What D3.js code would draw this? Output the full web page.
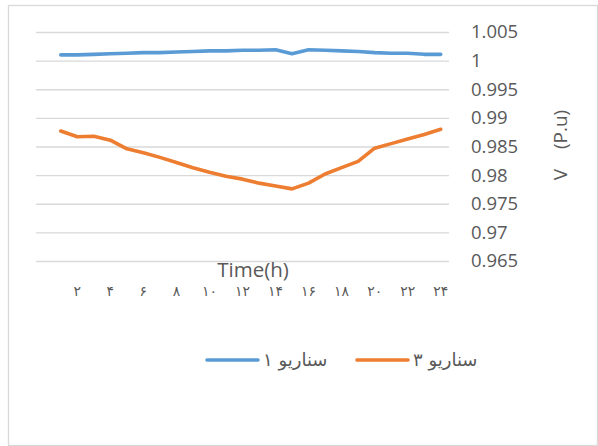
<!DOCTYPE html>
<html>
<head>
<meta charset="utf-8">
<script src="https://cdn.jsdelivr.net/npm/d3@7/dist/d3.min.js"></script>
<style>
  html, body { margin: 0; padding: 0; background: #fff; }
  svg { display: block; }
</style>
</head>
<body>
<svg id="chart" width="598" height="446"></svg>
<script>
// ---- data ----
const hours = [0, 1, 2, 3, 4, 5, 6, 7, 8, 9, 10, 11, 12, 13, 14, 15, 16, 17, 18, 19, 20, 21, 22, 23, 24];
const scenario1 = [null, 1.0010, 1.0010, 1.0011, 1.0012, 1.0013, 1.0014, 1.0014, 1.0015, 1.0016, 1.0017, 1.0017, 1.0018,
                   1.0018, 1.0019, 1.0012, 1.0019, 1.0018, 1.0017, 1.0016, 1.0014, 1.0013, 1.0013, 1.0011, 1.0011];
const scenario3 = [null, 0.9877, 0.9867, 0.9868, 0.9861, 0.9846, 0.9839, 0.9831, 0.9822, 0.9813, 0.9805, 0.9798, 0.9793,
                   0.9786, 0.9781, 0.9776, 0.9786, 0.9802, 0.9813, 0.9824, 0.9847, 0.9855, 0.9863, 0.9871, 0.9880];
const xTickHours = [2, 4, 6, 8, 10, 12, 14, 16, 18, 20, 22, 24];
const xTickLabels = ["۲", "۴", "۶", "۸", "۱۰", "۱۲", "۱۴", "۱۶", "۱۸", "۲۰", "۲۲", "۲۴"];
const yTicks = [0.965, 0.97, 0.975, 0.98, 0.985, 0.99, 0.995, 1, 1.005];
const seriesNames = ["سناریو ۱", "سناریو ۳"];
const seriesColors = ["#5b9bd5", "#ed7d31"];
const xTitle = "Time(h)";
const yTitle = "V    (P.u)";

// ---- layout ----
const svg = d3.select("#chart");
const plot = { left: 36, right: 449, top: 32, bottom: 261 };

// border
svg.append("rect").attr("x", 8.5).attr("y", 5.5).attr("width", 589).attr("height", 440)
  .attr("fill", "#fff").attr("stroke", "#d9d9d9").attr("stroke-width", 1.3);

const x = d3.scaleBand().domain(hours).range([plot.left, plot.right]);
const y = d3.scaleLinear().domain([0.965, 1.005]).range([plot.bottom, plot.top]);

// gridlines + right axis labels
const yAxis = d3.axisRight(y).tickValues(yTicks).tickSize(-(plot.right - plot.left))
  .tickPadding(22).tickFormat(d => d3.format("")(+d.toFixed(3)));
const ya = svg.append("g").attr("transform", `translate(${plot.right},0)`).call(yAxis);
ya.select(".domain").remove();
ya.selectAll(".tick line").attr("stroke", "#d9d9d9").attr("stroke-width", 1.3);
ya.selectAll(".tick text").attr("fill", "#595959")
  .style("font-family", "'Open Sans', sans-serif").style("font-size", "18.5px");

// x tick labels
const xAxis = d3.axisBottom(x).tickValues(xTickHours).tickSize(0).tickPadding(0)
  .tickFormat(d => xTickLabels[xTickHours.indexOf(d)]);
const xa = svg.append("g").attr("transform", `translate(0,${plot.bottom + 25})`).call(xAxis);
xa.select(".domain").remove();
xa.selectAll(".tick text").attr("fill", "#595959")
  .style("font-family", "'DejaVu Sans', sans-serif").style("font-size", "14px");

// titles
svg.append("text").attr("x", 253).attr("y", 277).attr("text-anchor", "middle")
  .attr("fill", "#595959").style("font-family", "'Open Sans', sans-serif").style("font-size", "20.5px")
  .text(xTitle);
svg.append("text").attr("transform", "translate(567,145) rotate(-90)").attr("text-anchor", "middle")
  .attr("fill", "#595959").style("font-family", "'Open Sans', sans-serif").style("font-size", "19px")
  .attr("xml:space", "preserve").style("white-space", "pre")
  .text(yTitle);

// lines
const line = d3.line().defined(d => d.v != null)
  .x(d => x(d.h) + x.bandwidth() / 2).y(d => y(d.v));
[scenario1, scenario3].forEach((s, i) => {
  svg.append("path").datum(hours.map((h, j) => ({ h, v: s[j] })))
    .attr("fill", "none").attr("stroke", seriesColors[i]).attr("stroke-width", 3.6)
    .attr("stroke-linejoin", "round").attr("stroke-linecap", "round").attr("d", line);
});

// legend
const legendX = [207, 357];
seriesNames.forEach((name, i) => {
  const g = svg.append("g").attr("transform", `translate(${legendX[i]},360)`);
  g.append("line").attr("x1", 0).attr("x2", 51).attr("y1", 0).attr("y2", 0)
    .attr("stroke", seriesColors[i]).attr("stroke-width", 3.6).attr("stroke-linecap", "round");
  g.append("text").attr("x", 56).attr("y", 6).attr("fill", "#595959")
    .style("font-family", "'DejaVu Sans', sans-serif").style("font-size", "18px")
    .attr("direction", "rtl").attr("text-anchor", "end").text(name);
});
</script>
</body>
</html>
